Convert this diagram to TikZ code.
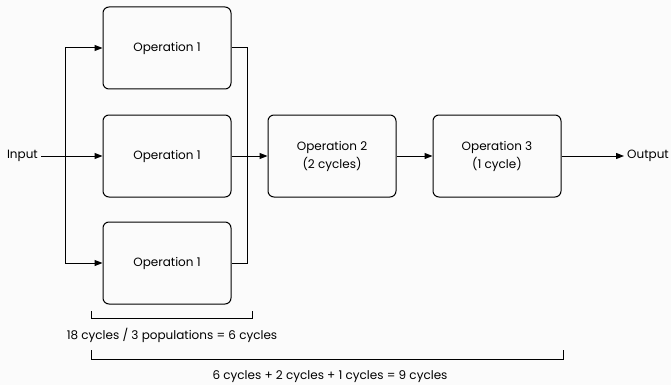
\documentclass[tikz,border=0pt]{standalone}
\usepackage{fontspec}
\setmainfont{Poppins}
\usetikzlibrary{arrows.meta}
\begin{document}
\begin{tikzpicture}[x=1pt,y=-1pt,
  opbox/.style={draw, line width=1pt, rounded corners=6pt, minimum width=128pt, minimum height=82pt, align=center, inner sep=0pt, font=\fontsize{12}{18}\selectfont},
  wire/.style={line width=1pt},
  flow/.style={wire, -{Stealth[length=8pt,width=6pt,inset=0pt]}},
  lbl/.style={font=\fontsize{12}{14}\selectfont, inner sep=1pt},
  port/.style={font=\fontsize{12}{14}\selectfont, inner sep=3pt}]
  \fill[gray!3] (0,0) rectangle (671,385);
  \useasboundingbox (0,0) rectangle (671,385);

  % parallel copies of the first stage
  \node[opbox] (opa) at (167,48) {Operation 1};
  \node[opbox] (opb) at (167,156) {Operation 1};
  \node[opbox] (opc) at (167,263) {Operation 1};
  % sequential stages
  \node[opbox] (op2) at (332,156) {Operation 2\\(2 cycles)};
  \node[opbox] (op3) at (497,156) {Operation 3\\(1 cycle)};

  \node[port, anchor=east] (in) at (41,156) {Input};
  \node[port, anchor=west] (out) at (624,156) {Output};

  % fan-out bus
  \coordinate (fanT) at (65,48);
  \coordinate (fanB) at (65,263);
  \draw[flow] (in.east) -- (opb.west);
  \draw[wire] (fanT) -- (fanB);
  \draw[flow] (fanT) -- (opa.west);
  \draw[flow] (fanB) -- (opc.west);

  % fan-in bus
  \coordinate (joinT) at (247,48);
  \coordinate (joinB) at (247,263);
  \draw[wire] (opa.east) -- (joinT) -- (joinB) -- (opc.east);
  \draw[flow] (opb.east) -- (op2.west);
  \draw[flow] (op2.east) -- (op3.west);
  \draw[flow] (op3.east) -- (out.west);

  % timing brackets
  \coordinate (b1l) at (91,311);
  \coordinate (b1r) at (252,311);
  \draw[wire] (b1l) -- ++(0,7) -| (b1r);
  \node[lbl] (t1) at (172,335) {18 cycles / 3 populations = 6 cycles};

  \coordinate (b2l) at (91,350);
  \coordinate (b2r) at (563,350);
  \draw[wire] (b2l) -- ++(0,9) -| (b2r);
  \node[lbl] (t2) at (330,377) {6 cycles + 2 cycles + 1 cycles = 9 cycles};
\end{tikzpicture}
\end{document}
